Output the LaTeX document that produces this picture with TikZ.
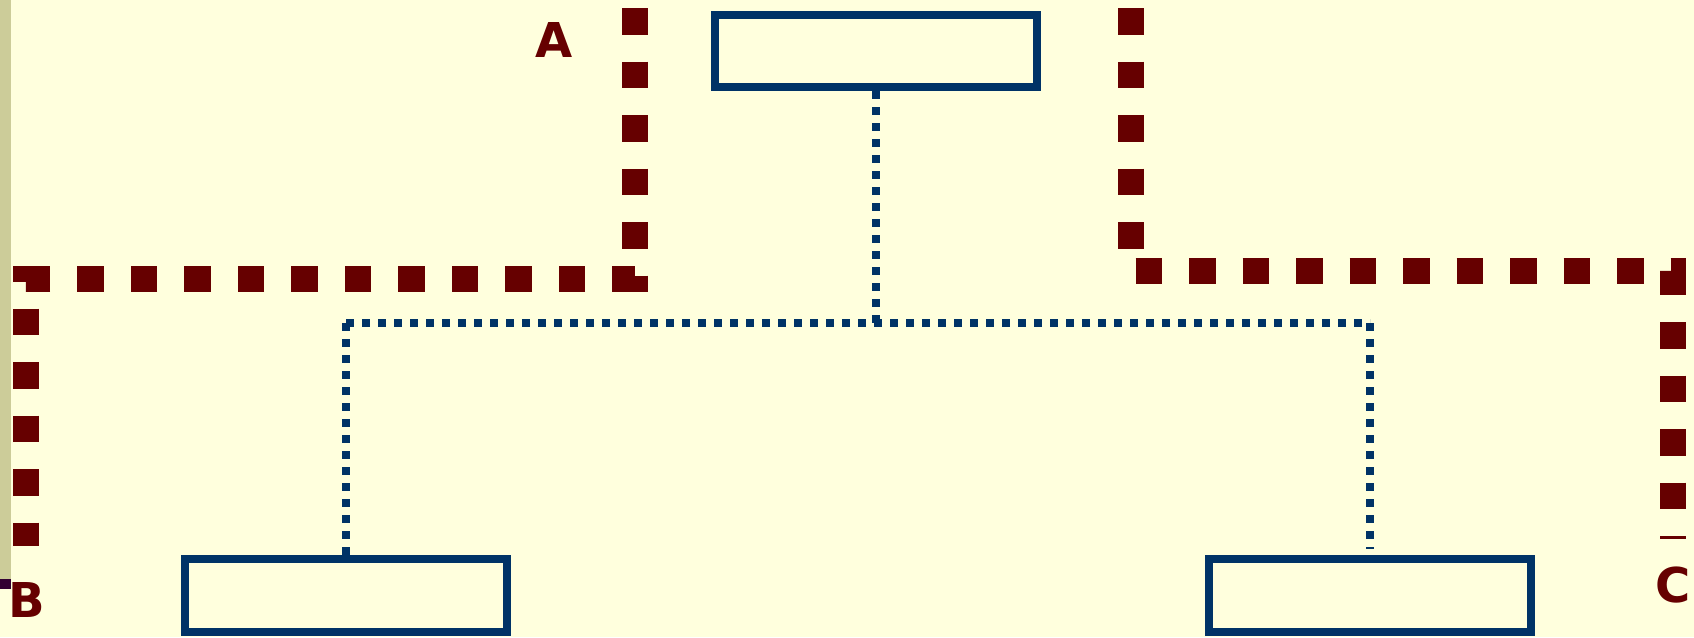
\documentclass[tikz,border=0pt]{standalone}
\usepackage{fontspec}
\setmainfont{DejaVu Sans}
\usetikzlibrary{positioning}

\definecolor{paper}{HTML}{FFFFDD}
\definecolor{strip}{HTML}{CCCC99}
\definecolor{plum}{HTML}{330033}
\definecolor{navy}{HTML}{003366}
\definecolor{maroon}{HTML}{660000}

\begin{document}
\begin{tikzpicture}[
    x=1pt, y=-1pt,
    box/.style={
        rectangle,
        draw=navy,
        line width=8pt,
        minimum width=322pt,
        minimum height=72pt,
        inner sep=0pt
    },
    tie/.style={navy, line width=8pt, dash pattern=on 8pt off 8pt},
    bound/.style={maroon, line width=26.5pt, dash pattern=on 26.5pt off 27pt},
    tag/.style={text=maroon, font=\fontsize{48}{50}\selectfont\bfseries, inner sep=0pt}
]

% page and left strip
\fill[paper] (0,0) rectangle (1694,637);
\useasboundingbox (0,0) rectangle (1694,637);
\fill[strip] (0,0) rectangle (11,579);
\fill[plum] (0,579) rectangle (11,589);

% boxes
\node[box] (top) at (876,51) {};
\node[box, minimum height=73pt] (lbox) at (346,595.5) {};
\node[box, minimum height=73pt] (rbox) at (1370,595.5) {};

\coordinate (jn) at (876,323);
\coordinate (jl) at (346,323);
\coordinate (jr) at (1370,323);
\coordinate (jre) at (1370,549);

\draw[tie] (top.south) -- (jn);
\draw[tie] (jl) -- (jr);
\draw[tie] (jl) -- (lbox.north);
\draw[tie] (jr) -- (jre);

% boundaries
\coordinate (a0) at (635,8);
\coordinate (a1) at (635,279);
\coordinate (a2) at (26,279);
\coordinate (a3) at (26,546);
\coordinate (c0) at (1131,8);
\coordinate (c1) at (1131,271);
\coordinate (c2) at (1673,271);
\coordinate (c3) at (1673,539);

\draw[bound] (a0) -- (a1) -- (a2) -- (a3);
\draw[bound] (c0) -- (c1) -- (c2) -- (c3);

\node[tag] (la) at (554,40) {A};
\node[tag] (lb) at (27,600) {B};
\node[tag] (lc) at (1673,585) {C};

\end{tikzpicture}
\end{document}
